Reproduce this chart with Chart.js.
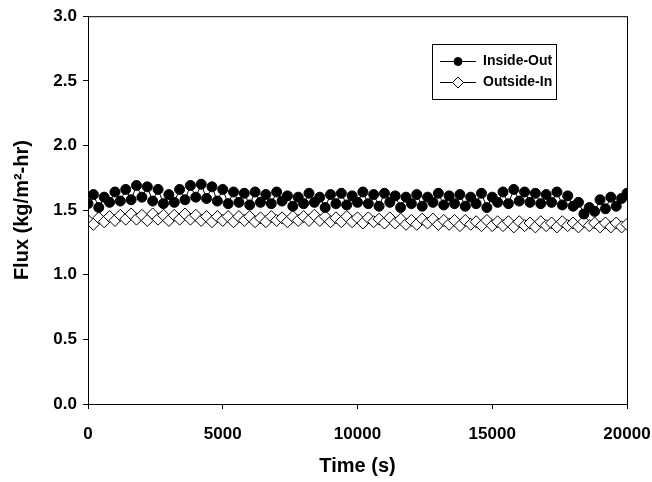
<!DOCTYPE html>
<html>
<head>
<meta charset="utf-8">
<script src="https://cdn.jsdelivr.net/npm/chart.js@4"></script>
<style>
  html, body { margin: 0; padding: 0; background: #fff; }
  #wrap { width: 652px; height: 482px; }
</style>
</head>
<body>
<div id="wrap"><canvas id="fluxChart" width="652" height="482"></canvas></div>
<script>
// time stamps (s)
const timeS = [
  0, 200, 400, 600, 800, 1000, 1200, 1400, 1600, 1800,
  2000, 2200, 2400, 2600, 2800, 3000, 3200, 3400, 3600, 3800,
  4000, 4200, 4400, 4600, 4800, 5000, 5200, 5400, 5600, 5800,
  6000, 6200, 6400, 6600, 6800, 7000, 7200, 7400, 7600, 7800,
  8000, 8200, 8400, 8600, 8800, 9000, 9200, 9400, 9600, 9800,
  10000, 10200, 10400, 10600, 10800, 11000, 11200, 11400, 11600, 11800,
  12000, 12200, 12400, 12600, 12800, 13000, 13200, 13400, 13600, 13800,
  14000, 14200, 14400, 14600, 14800, 15000, 15200, 15400, 15600, 15800,
  16000, 16200, 16400, 16600, 16800, 17000, 17200, 17400, 17600, 17800,
  18000, 18200, 18400, 18600, 18800, 19000, 19200, 19400, 19600, 19800,
  20000
];

// flux, kg/m2-hr
const insideOut = [
  1.55, 1.62, 1.52, 1.60, 1.56, 1.64, 1.57, 1.66, 1.58, 1.69,
  1.60, 1.68, 1.57, 1.66, 1.55, 1.62, 1.56, 1.66, 1.58, 1.69,
  1.60, 1.70, 1.59, 1.68, 1.57, 1.66, 1.55, 1.64, 1.56, 1.63,
  1.54, 1.64, 1.56, 1.62, 1.55, 1.64, 1.57, 1.61, 1.53, 1.60,
  1.55, 1.63, 1.56, 1.60, 1.52, 1.62, 1.55, 1.63, 1.54, 1.61,
  1.56, 1.64, 1.55, 1.62, 1.53, 1.63, 1.56, 1.61, 1.52, 1.60,
  1.55, 1.62, 1.53, 1.60, 1.56, 1.63, 1.54, 1.61, 1.55, 1.62,
  1.53, 1.60, 1.55, 1.63, 1.52, 1.60, 1.56, 1.64, 1.55, 1.66,
  1.57, 1.64, 1.56, 1.63, 1.55, 1.62, 1.56, 1.64, 1.54, 1.61,
  1.53, 1.56, 1.47, 1.52, 1.49, 1.58, 1.51, 1.60, 1.53, 1.59,
  1.63
];

const outsideIn = [
  1.42, 1.39, 1.44, 1.41, 1.45, 1.42, 1.46, 1.43, 1.47, 1.43,
  1.46, 1.42, 1.47, 1.43, 1.46, 1.42, 1.46, 1.43, 1.47, 1.43,
  1.46, 1.42, 1.45, 1.41, 1.45, 1.42, 1.45, 1.41, 1.45, 1.42,
  1.45, 1.41, 1.44, 1.41, 1.45, 1.42, 1.44, 1.41, 1.45, 1.42,
  1.45, 1.42, 1.46, 1.42, 1.45, 1.41, 1.44, 1.41, 1.45, 1.41,
  1.44, 1.40, 1.44, 1.41, 1.43, 1.40, 1.44, 1.40, 1.43, 1.39,
  1.42, 1.39, 1.43, 1.40, 1.43, 1.39, 1.42, 1.39, 1.42, 1.38,
  1.42, 1.39, 1.41, 1.38, 1.42, 1.38, 1.41, 1.38, 1.41, 1.37,
  1.41, 1.38, 1.40, 1.37, 1.41, 1.38, 1.40, 1.37, 1.41, 1.38,
  1.40, 1.37, 1.41, 1.38, 1.40, 1.37, 1.40, 1.37, 1.40, 1.37,
  1.39
];

const seriesNames = ['Inside-Out', 'Outside-In'];
const xTicks = [0, 5000, 10000, 15000, 20000];
const yTicks = [0.0, 0.5, 1.0, 1.5, 2.0, 2.5, 3.0];

const FONT = '"Liberation Sans", Arial, sans-serif';

const toPoints = (xs, ys) => xs.map((x, i) => ({ x: x, y: ys[i] }));

// box around the plot area + the framed legend in the upper right
const framePlugin = {
  id: 'frame',
  afterDraw(chart) {
    const { ctx, chartArea: a } = chart;
    ctx.save();
    ctx.strokeStyle = '#000';
    ctx.lineWidth = 1;
    ctx.strokeRect(a.left + 0.5, a.top + 0.5, a.right - a.left, a.bottom - a.top);

    // legend
    const bx = 432, by = 44, bw = 124, bh = 55;
    ctx.fillStyle = '#fff';
    ctx.fillRect(bx, by, bw, bh);
    ctx.strokeRect(bx + 0.5, by + 0.5, bw, bh);
    ctx.font = 'bold 14px ' + FONT;
    ctx.textBaseline = 'middle';
    chart.data.datasets.forEach((ds, i) => {
      const y = by + 17 + i * 21 + 0.5;
      ctx.beginPath();
      ctx.moveTo(bx + 8, y);
      ctx.lineTo(bx + 44, y);
      ctx.stroke();
      const mx = bx + 26;
      ctx.beginPath();
      if (ds.pointStyle === 'circle') {
        ctx.arc(mx, y, 4, 0, Math.PI * 2);
      } else {
        ctx.moveTo(mx, y - 5.5);
        ctx.lineTo(mx + 5.5, y);
        ctx.lineTo(mx, y + 5.5);
        ctx.lineTo(mx - 5.5, y);
        ctx.closePath();
      }
      ctx.fillStyle = ds.pointBackgroundColor;
      ctx.fill();
      ctx.stroke();
      ctx.fillStyle = '#000';
      ctx.fillText(ds.label, bx + 51, y);
    });
    ctx.restore();
  }
};

const ctx = document.getElementById('fluxChart').getContext('2d');
new Chart(ctx, {
  type: 'line',
  data: {
    datasets: [
      {
        label: seriesNames[0],
        data: toPoints(timeS, insideOut),
        borderColor: '#000',
        borderWidth: 1,
        pointStyle: 'circle',
        pointRadius: 5,
        pointBackgroundColor: '#000',
        pointBorderColor: '#000',
        pointBorderWidth: 1,
        tension: 0,
      },
      {
        label: seriesNames[1],
        data: toPoints(timeS, outsideIn),
        borderColor: '#000',
        borderWidth: 1,
        pointStyle: 'rectRot',
        pointRadius: 6,
        pointBackgroundColor: '#fff',
        pointBorderColor: '#000',
        pointBorderWidth: 1,
        tension: 0,
      },
    ],
  },
  options: {
    responsive: false,
    animation: false,
    layout: { padding: { top: 15, right: 25, bottom: 0, left: 0 } },
    plugins: {
      legend: { display: false },
      tooltip: { enabled: false },
    },
    scales: {
      x: {
        type: 'linear',
        min: 0,
        max: 20000,
        afterBuildTicks: (s) => { s.ticks = xTicks.map(v => ({ value: v })); },
        afterFit: (s) => {
          s.height = 78;
          s.paddingLeft = 0;
          s.paddingRight = 0;
        },
        grid: { drawOnChartArea: false, drawTicks: true, tickLength: 5, color: '#000' },
        border: { color: '#000' },
        ticks: {
          color: '#000',
          padding: 15,
          maxRotation: 0,
          callback: (v) => String(v),
          font: { family: FONT, size: 17, weight: 'bold' },
        },
        title: {
          display: true,
          text: 'Time (s)',
          color: '#000',
          padding: { top: 0, bottom: 4 },
          font: { family: FONT, size: 20, weight: 'bold' },
        },
      },
      y: {
        type: 'linear',
        min: 0,
        max: 3,
        afterBuildTicks: (s) => { s.ticks = yTicks.map(v => ({ value: v })); },
        afterFit: (s) => { s.width = 88; },
        grid: { drawOnChartArea: false, drawTicks: true, tickLength: 5, color: '#000' },
        border: { color: '#000' },
        ticks: {
          color: '#000',
          padding: 6,
          callback: (v) => v.toFixed(1),
          font: { family: FONT, size: 17, weight: 'bold' },
        },
        title: {
          display: true,
          text: 'Flux (kg/m\u00B2-hr)',
          color: '#000',
          padding: { top: 10, bottom: 0 },
          font: { family: FONT, size: 20, weight: 'bold' },
        },
      },
    },
  },
  plugins: [framePlugin],
});
</script>
</body>
</html>
